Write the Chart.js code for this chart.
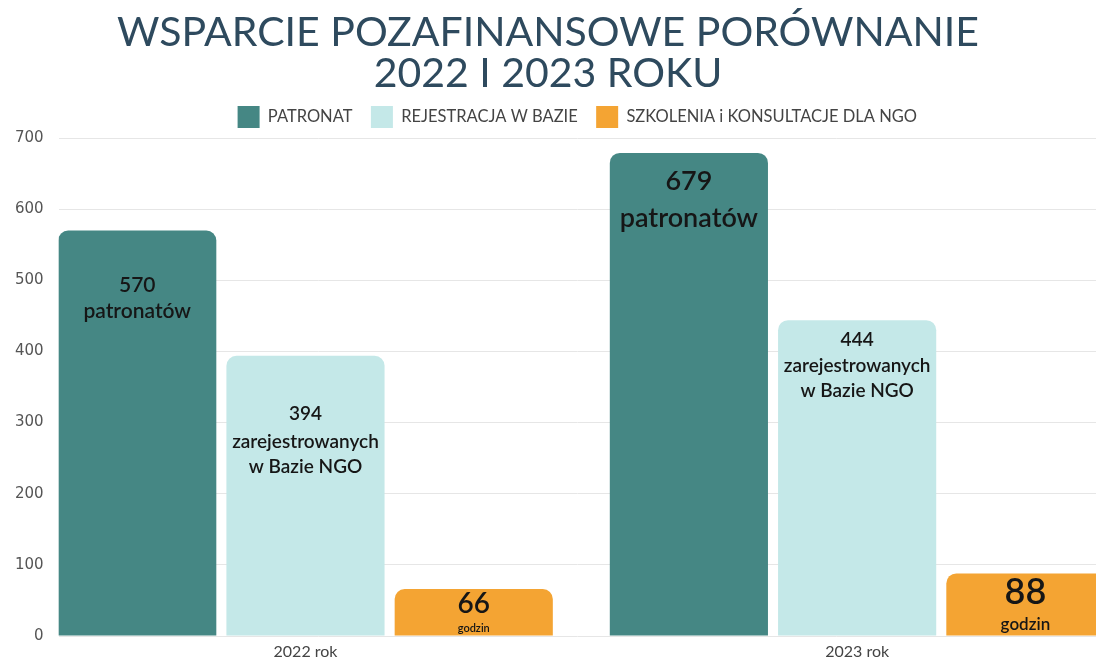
<!DOCTYPE html>
<html>
<head>
<meta charset="utf-8">
<script src="https://cdn.jsdelivr.net/npm/chart.js@4.4.1/dist/chart.umd.min.js"></script>
<style>
  html, body { margin: 0; padding: 0; background: #fff; overflow: hidden; }
  #wrap { width: 1096px; height: 660px; position: relative; }
</style>
</head>
<body>
<div id="wrap"><canvas id="chart"></canvas></div>
<script>
// DATA
const categories = ["2022 rok", "2023 rok"];
const seriesNames = ["PATRONAT", "REJESTRACJA W BAZIE", "SZKOLENIA i KONSULTACJE DLA NGO"];
const patronat = [570, 679];
const rejestracja = [394, 444];
const szkolenia = [66, 88];
const patronatText = [["570", "patronatów"], ["679", "patronatów"]];
const rejestracjaText = [["394", "zarejestrowanych", "w Bazie NGO"], ["444", "zarejestrowanych", "w Bazie NGO"]];
const szkoleniaText = [["66", "godzin"], ["88", "godzin"]];
const yTicks = [0, 100, 200, 300, 400, 500, 600, 700];

const colors = ["#458784", "#c4e8e8", "#f4a433"];

// label look per bar: [size, offset from bar top] for each line
const labelStyle = [
  [ [[21, 55], [21, 81]], [[27, 28], [27, 65]] ],
  [ [[19, 58], [19, 86], [19, 111]], [[19, 20], [19, 46], [19, 71]] ],
  [ [[28, 15], [11, 39]], [[36, 19], [17, 51]] ]
];
const labelTexts = [patronatText, rejestracjaText, szkoleniaText];

const toPoints = arr => arr.map((v, i) => ({ x: i, y: v }));

const barLabels = {
  id: "barLabels",
  afterDatasetsDraw(chart) {
    const ctx = chart.ctx;
    ctx.save();
    ctx.fillStyle = "#161616";
    ctx.textAlign = "center";
    ctx.textBaseline = "middle";
    chart.data.datasets.forEach((ds, d) => {
      chart.getDatasetMeta(d).data.forEach((bar, i) => {
        const lines = labelTexts[d][i];
        lines.forEach((t, k) => {
          const [size, dy] = labelStyle[d][i][k];
          ctx.font = "600 " + size + "px Lato";
          ctx.fillText(t, bar.x, bar.y + dy);
        });
      });
    });
    ctx.restore();
  }
};

new Chart(document.getElementById("chart"), {
  type: "bar",
  data: {
    datasets: [
      { label: seriesNames[0], data: toPoints(patronat), backgroundColor: colors[0] },
      { label: seriesNames[1], data: toPoints(rejestracja), backgroundColor: colors[1] },
      { label: seriesNames[2], data: toPoints(szkolenia), backgroundColor: colors[2] }
    ]
  },
  options: {
    responsive: true,
    maintainAspectRatio: false,
    animation: false,
    layout: { padding: { left: 0, right: 0, top: 0, bottom: -10 } },
    datasets: {
      bar: {
        categoryPercentage: 0.915,
        barPercentage: 0.94,
        borderRadius: { topLeft: 10, topRight: 10 },
        borderSkipped: "bottom"
      }
    },
    plugins: {
      title: {
        display: true,
        text: ["WSPARCIE POZAFINANSOWE PORÓWNANIE", "2022 I 2023 ROKU"],
        color: "#2e4a5e",
        font: { family: "Lato", size: 41, weight: "normal", lineHeight: 1.0 },
        padding: { top: 12, bottom: 2 }
      },
      legend: {
        fullSize: false,
        labels: {
          boxWidth: 22,
          boxHeight: 22,
          padding: 10,
          color: "#444",
          font: { family: "Lato", size: 16.5 },
          generateLabels(chart) {
            const items = Chart.defaults.plugins.legend.labels.generateLabels(chart);
            items.forEach((l, i) => {
              if (i < items.length - 1) l.text = l.text + "  ";
            });
            return items;
          }
        }
      },
      tooltip: { enabled: false }
    },
    scales: {
      x: {
        type: "linear",
        offset: false,
        min: -0.4475,
        max: 1.433,
        afterBuildTicks(scale) {
          scale.ticks = categories.map((c, i) => ({ value: i }));
        },
        ticks: {
          callback: v => categories[v],
          color: "#444",
          font: { family: "Lato", size: 16 },
          padding: 6,
          maxRotation: 0
        },
        grid: { display: false, drawTicks: false },
        border: { display: false }
      },
      y: {
        min: 0,
        max: 700,
        afterBuildTicks(scale) {
          scale.ticks = yTicks.map(v => ({ value: v }));
        },
        ticks: {
          color: "#555",
          font: { family: "DejaVu Sans", size: 15 },
          padding: 15
        },
        grid: { color: "#e6e6e6", drawTicks: false },
        border: { display: false }
      }
    }
  },
  plugins: [barLabels]
});
</script>
</body>
</html>
